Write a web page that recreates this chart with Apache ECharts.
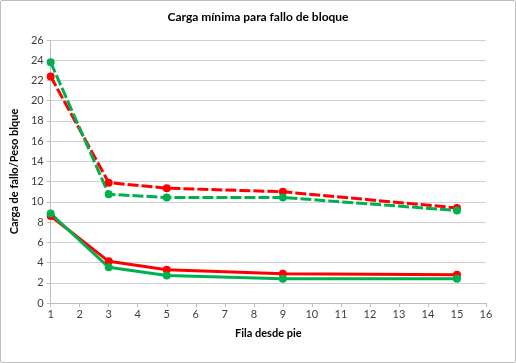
<!DOCTYPE html>
<html><head><meta charset="utf-8">
<script src="https://cdn.jsdelivr.net/npm/echarts@6/dist/echarts.min.js"></script>
<style>html,body{margin:0;padding:0;background:#fff}#c{width:516px;height:363px;box-sizing:border-box;border:1px solid #BFBFBF;border-radius:2px}</style>
</head><body><div id="c"></div>
<script>
var filas = [1, 3, 5, 9, 15];
var rojoSuperior = [22.4, 11.9, 11.35, 11.0, 9.4];
var verdeSuperior = [23.8, 10.75, 10.43, 10.43, 9.15];
var rojoInferior = [8.6, 4.12, 3.28, 2.88, 2.8];
var verdeInferior = [8.85, 3.53, 2.72, 2.4, 2.4];

function pts(vals){ return filas.map(function(x,i){return [x, vals[i]];}); }
var chart = echarts.init(document.getElementById('c'));
var font = 'Lato, "Open Sans", sans-serif';
function s(name, vals, color, dashed){
  return {name:name, type:'line', data:pts(vals), symbol:'circle', symbolSize:8,
    itemStyle:{color:color}, lineStyle:{color:color, width:3, type: dashed ? [11,3] : 'solid'}, z: 2};
}
chart.setOption({
  animation:false,
  title:{text:'Carga mínima para fallo de bloque', left:'center', top:5,
    textStyle:{fontFamily:font, fontSize:12, fontWeight:'bold', color:'#000'}},
  grid:{left:48, right:29, top:39, bottom:59},
  xAxis:{type:'value', min:1, max:16, interval:1, name:'Fila desde pie', nameLocation:'middle', nameGap:25,
    nameTextStyle:{fontFamily:font, fontSize:11, fontWeight:'bold', color:'#000'},
    axisLine:{lineStyle:{color:'#BFBFBF'}}, axisTick:{show:true, length:4, lineStyle:{color:'#BFBFBF'}},
    axisLabel:{fontFamily:font, fontSize:11, color:'#404040', margin:6}, splitLine:{show:false}},
  yAxis:{type:'value', min:0, max:26, interval:2, name:'Carga de fallo/Peso blque', nameLocation:'middle', nameGap:22,
    nameTextStyle:{fontFamily:font, fontSize:11, fontWeight:'bold', color:'#000'},
    axisLine:{show:true, lineStyle:{color:'#BFBFBF'}}, axisTick:{show:true, length:4, lineStyle:{color:'#BFBFBF'}},
    axisLabel:{fontFamily:font, fontSize:11, color:'#404040', margin:7},
    splitLine:{lineStyle:{color:'#D0D0D0', width:1}}},
  series:[
    s('rojo sup', rojoSuperior, '#FF0000', true),
    s('verde sup', verdeSuperior, '#00B050', true),
    s('rojo inf', rojoInferior, '#FF0000', false),
    s('verde inf', verdeInferior, '#00B050', false)
  ]
});
</script></body></html>
